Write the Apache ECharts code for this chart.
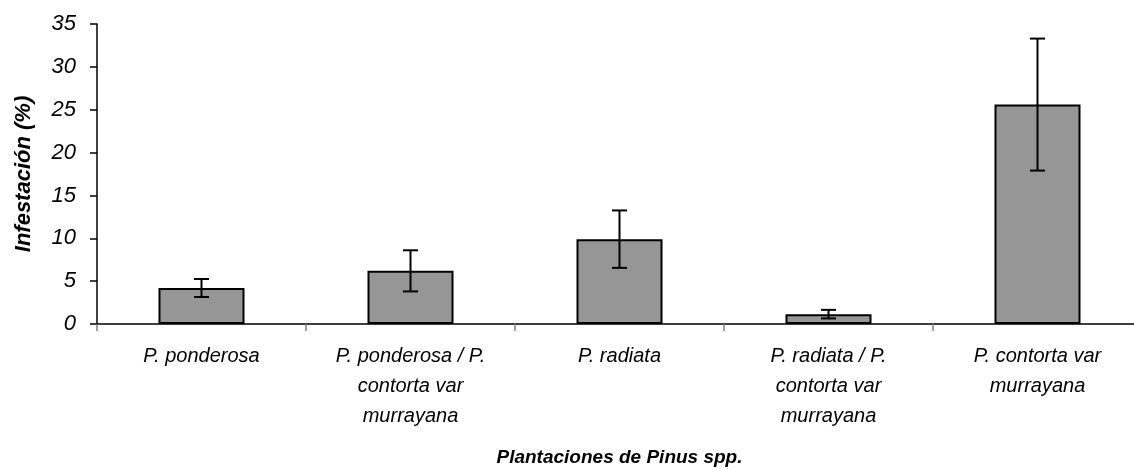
<!DOCTYPE html>
<html>
<head>
<meta charset="utf-8">
<script src="https://cdn.jsdelivr.net/npm/echarts@6/dist/echarts.min.js"></script>
<style>
html,body{margin:0;padding:0;background:#fff;}
#c{width:1134px;height:469px;}
</style>
</head>
<body>
<div id="c"></div>
<script>
var categories = [
  'P. ponderosa',
  'P. ponderosa / P.\ncontorta var\nmurrayana',
  'P. radiata',
  'P. radiata / P.\ncontorta var\nmurrayana',
  'P. contorta var\nmurrayana'
];
var values = [4.2, 6.2, 9.9, 1.15, 25.6];
var errors = [1.05, 2.4, 3.35, 0.5, 7.7];
var yTicks = [0, 5, 10, 15, 20, 25, 30, 35];

var errData = values.map(function (v, i) { return [i, v - errors[i], v + errors[i]]; });
var FONT = 'Liberation Sans, Arial, sans-serif';

var chart = echarts.init(document.getElementById('c'), null, {renderer: 'canvas'});
chart.setOption({
  animation: false,
  backgroundColor: '#fff',
  grid: {left: 97, top: 24, width: 1045, height: 300, containLabel: false, outerBoundsMode: 'none'},
  xAxis: {
    type: 'category',
    data: categories,
    boundaryGap: true,
    name: 'Plantaciones de Pinus spp.',
    nameLocation: 'middle',
    nameGap: 124,
    nameTextStyle: {fontFamily: FONT, fontSize: 19, fontStyle: 'italic', fontWeight: 'bold', color: '#000'},
    axisLine: {lineStyle: {color: '#000', width: 1.5}},
    axisTick: {show: true, length: 7, lineStyle: {color: '#808080', width: 1.5}},
    axisLabel: {fontFamily: FONT, fontSize: 20, fontStyle: 'italic', color: '#000', lineHeight: 30, margin: 17, interval: 0}
  },
  yAxis: {
    type: 'value',
    min: yTicks[0],
    max: yTicks[yTicks.length - 1],
    interval: 5,
    name: 'Infestación (%)',
    nameLocation: 'middle',
    nameGap: 62,
    nameTextStyle: {fontFamily: FONT, fontSize: 22, fontStyle: 'italic', fontWeight: 'bold', color: '#000'},
    axisLine: {show: true, lineStyle: {color: '#000', width: 1.5}},
    axisTick: {show: true, length: 7, lineStyle: {color: '#000', width: 1.5}},
    splitLine: {show: false},
    axisLabel: {fontFamily: FONT, fontSize: 22, fontStyle: 'italic', color: '#000', margin: 21}
  },
  series: [
    {
      type: 'bar',
      data: values,
      barWidth: 86,
      itemStyle: {color: '#969696', borderColor: '#000', borderWidth: 2}
    },
    {
      type: 'custom',
      data: errData,
      z: 10,
      renderItem: function (params, api) {
        var x = api.value(0);
        var lo = api.coord([x, api.value(1)]);
        var hi = api.coord([x, api.value(2)]);
        var hw = 7.5;
        var st = {stroke: '#000', lineWidth: 2};
        return {
          type: 'group',
          children: [
            {type: 'line', shape: {x1: lo[0], y1: lo[1], x2: hi[0], y2: hi[1]}, style: st},
            {type: 'line', shape: {x1: hi[0] - hw, y1: hi[1], x2: hi[0] + hw, y2: hi[1]}, style: st},
            {type: 'line', shape: {x1: lo[0] - hw, y1: lo[1], x2: lo[0] + hw, y2: lo[1]}, style: st}
          ]
        };
      }
    }
  ]
});
</script>
</body>
</html>
